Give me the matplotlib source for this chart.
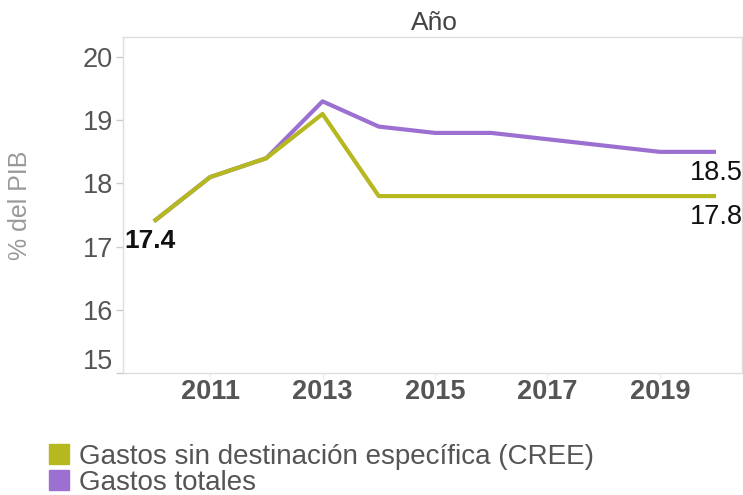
import matplotlib.pyplot as plt
from matplotlib.patches import Patch
from matplotlib.transforms import ScaledTranslation

# serie de gastos en % del PIB
anios = [2010, 2011, 2012, 2013, 2014, 2015, 2016, 2017, 2018, 2019, 2020]
gastos_cree = [17.4, 18.1, 18.4, 19.1, 17.8, 17.8, 17.8, 17.8, 17.8, 17.8, 17.8]
gastos_totales = [17.4, 18.1, 18.4, 19.3, 18.9, 18.8, 18.8, 18.7, 18.6, 18.5, 18.5]
nombres = ["Gastos sin destinación específica (CREE)", "Gastos totales"]

verde = "#b5b81f"
morado = "#9b70d0"
gris = "#555555"

plt.rcParams['font.family'] = ['Liberation Sans', 'DejaVu Sans']

fig = plt.figure(figsize=(7.43, 4.95), dpi=100)
ax = fig.add_axes([0.1655, 0.2465, 0.833, 0.679])

ax.plot(anios, gastos_totales, color=morado, lw=3, solid_capstyle='butt', zorder=2)
ax.plot(anios, gastos_cree, color=verde, lw=3, solid_capstyle='butt', zorder=3)

ax.set_xlim(2009.45, 2020.46)
ax.set_ylim(15, 20.32)
ax.set_xticks([2011, 2013, 2015, 2017, 2019])
ax.set_yticks([15, 16, 17, 18, 19, 20])

for s in ax.spines.values():
    s.set_color("#dddddd")
    s.set_linewidth(1)

ax.tick_params(axis='y', colors="#cccccc", labelcolor=gris, labelsize=19.5, length=5, width=1, pad=2)
ax.tick_params(axis='x', colors="#eeeeee", labelcolor=gris, labelsize=19.5, length=4, width=1, pad=0)
for lbl in ax.get_xticklabels():
    lbl.set_fontweight('bold')

# la etiqueta 15 queda dentro del marco
lbl15 = ax.get_yticklabels()[0]
lbl15.set_transform(lbl15.get_transform() + ScaledTranslation(0, 14 / 100, fig.dpi_scale_trans))

ax.set_ylabel("% del PIB", color="#999999", fontsize=18)
ax.yaxis.set_label_coords(-0.147, 0.5)
fig.text(0.585, 0.953, "Año", ha='center', va='center', fontsize=19, color="#444444")

# valores en los extremos
ax.annotate(f"{gastos_cree[0]}", (anios[0], gastos_cree[0]), xytext=(-3, -14),
            textcoords='offset points', ha='center', va='center',
            fontsize=19, fontweight='bold', color="#111111")
ax.annotate(f"{gastos_totales[-1]}", (anios[-1], gastos_totales[-1]), xytext=(0, -15.5),
            textcoords='offset points', ha='center', va='center',
            fontsize=19.5, color="#111111")
ax.annotate(f"{gastos_cree[-1]}", (anios[-1], gastos_cree[-1]), xytext=(0, -15),
            textcoords='offset points', ha='center', va='center',
            fontsize=19.5, color="#111111")

handles = [Patch(color=verde), Patch(color=morado)]
fig.legend(handles, nombres, loc='upper left', bbox_to_anchor=(0.066, 0.104),
           frameon=False, fontsize=20, handlelength=0.72, handleheight=0.72,
           handletextpad=0.35, labelspacing=0.02, borderpad=0, borderaxespad=0,
           labelcolor=gris)

plt.savefig("out.png", dpi=100)
